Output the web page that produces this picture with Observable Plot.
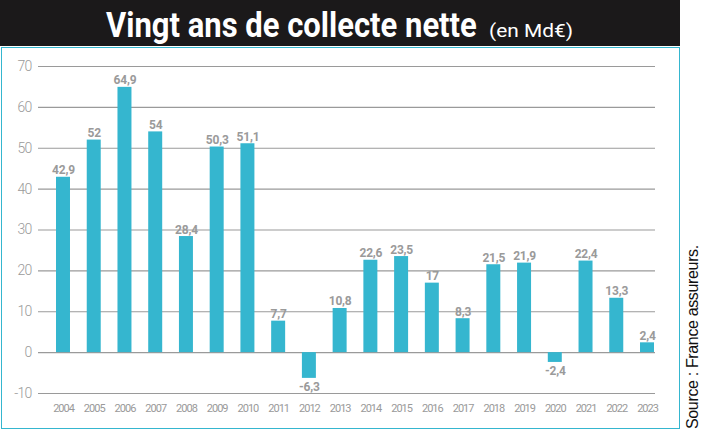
<!DOCTYPE html>
<html lang="fr">
<head>
<meta charset="utf-8">
<script src="https://cdn.jsdelivr.net/npm/d3@7"></script>
<script src="https://cdn.jsdelivr.net/npm/@observablehq/plot@0.6"></script>
<style>
  body { margin: 0; background: #fff; }
  #wrap { position: relative; width: 702px; height: 433px; overflow: hidden; }
  #title { position: absolute; left: 0; top: 0; }
  #title text { font-family: Roboto, "Liberation Sans", sans-serif; fill: #fff; }
  #box {
    position: absolute; left: 1px; top: 47px; width: 679px; height: 382px;
    border: 1.5px solid #35b6cf; box-sizing: border-box;
  }
  #chart { position: absolute; left: 0; top: 48px; }
  #source {
    position: absolute; left: 684px; top: 244px; height: 185px;
    writing-mode: vertical-rl; transform: rotate(180deg);
    font-family: "Liberation Sans", Arial, sans-serif; font-size: 16px; color: #111;
    letter-spacing: -0.35px; white-space: nowrap; text-align: left;
  }
  #chart svg text { font-family: Roboto, "Liberation Sans", sans-serif; }
  #chart svg g[aria-label="y-axis tick label"] text { letter-spacing: -0.8px; }
  #chart svg g[aria-label="x-axis tick label"] text { letter-spacing: -1px; }
  #chart svg g[aria-label="text"] text { letter-spacing: -0.2px; }
</style>
</head>
<body>
<div id="wrap">
  <svg id="title" width="680" height="46">
    <rect width="680" height="46" fill="#1b191a"></rect>
    <g id="tmain" transform="translate(106,37)"><text font-size="35" font-weight="bold">Vingt ans de collecte nette</text></g>
    <g id="tunit" transform="translate(489,37)"><text font-size="18">(en Md€)</text></g>
  </svg>
  <div id="box"></div>
  <div id="chart"></div>
  <div id="source">Source : France assureurs.</div>
</div>
<script>
// Net inflows per year, in billions of euros
const years = ["2004","2005","2006","2007","2008","2009","2010","2011","2012","2013",
               "2014","2015","2016","2017","2018","2019","2020","2021","2022","2023"];
const values = [42.9, 52, 64.9, 54, 28.4, 50.3, 51.1, 7.7, -6.3, 10.8,
                22.6, 23.5, 17, 8.3, 21.5, 21.9, -2.4, 22.4, 13.3, 2.4];
const yTicks = [-10, 0, 10, 20, 30, 40, 50, 60, 70];

const data = years.map((year, i) => ({year, value: values[i]}));
const fmt = v => String(v).replace(".", ",");

const gray = "#9a9a9a";
const barColor = "#35b6cf";

// Condense the headline horizontally to its set width
function fitWidth(id, width) {
  const g = document.getElementById(id);
  const t = g.querySelector("text");
  const s = width / t.getComputedTextLength();
  g.setAttribute("transform", g.getAttribute("transform") + ` scale(${s},1)`);
}
fitWidth("tmain", 371);
fitWidth("tunit", 84);

const chart = Plot.plot({
  width: 680,
  height: 380,
  marginTop: 18,
  marginBottom: 35,
  marginLeft: 38,
  marginRight: 25,
  x: {type: "band", domain: years, range: [56, 654], paddingInner: 0.545, paddingOuter: 0, round: false},
  y: {domain: [-10, 70]},
  marks: [
    Plot.ruleY(yTicks, {stroke: gray, strokeWidth: 1.2}),
    Plot.barY(data, {x: "year", y: "value", fill: barColor}),
    Plot.text(data.filter(d => d.value >= 0), {
      x: "year", y: "value", text: d => fmt(d.value),
      lineAnchor: "bottom", dy: -3, fill: gray, fontWeight: "bold", fontSize: 12
    }),
    Plot.text(data.filter(d => d.value < 0), {
      x: "year", y: "value", text: d => fmt(d.value),
      lineAnchor: "top", dy: 4, fill: gray, fontWeight: "bold", fontSize: 12
    }),
    Plot.axisY({ticks: yTicks, tickSize: 0, tickPadding: 7, tickFormat: d => String(d),
                fill: gray, fontSize: 14, fontWeight: 300, label: null}),
    Plot.axisX({tickSize: 0, tickPadding: 11, fill: gray, fontSize: 11, label: null})
  ]
});
document.getElementById("chart").appendChild(chart);
</script>
</body>
</html>
